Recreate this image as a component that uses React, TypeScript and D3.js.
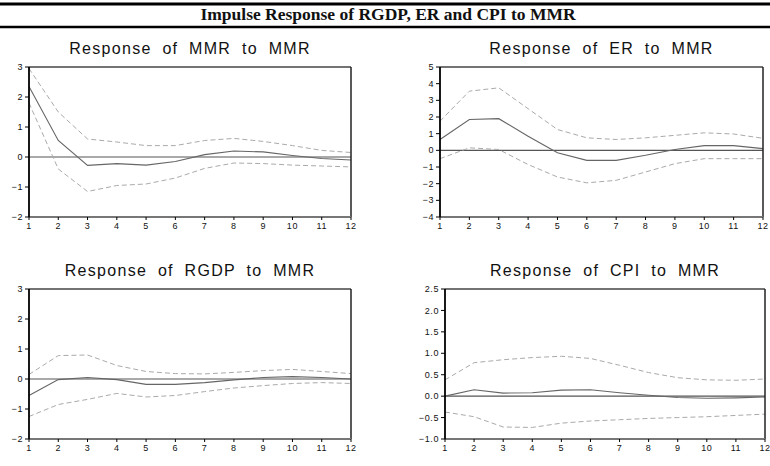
import React from "react";
import * as d3 from "d3";

const periods = d3.range(1, 13);

// MMR to MMR
const mmrResp = [2.35, 0.55, -0.28, -0.22, -0.27, -0.15, 0.08, 0.2, 0.17, 0.05, -0.05, -0.1];
const mmrUpper = [2.95, 1.5, 0.6, 0.5, 0.38, 0.38, 0.55, 0.62, 0.52, 0.38, 0.22, 0.15];
const mmrLower = [1.8, -0.4, -1.15, -0.95, -0.9, -0.7, -0.38, -0.2, -0.22, -0.27, -0.3, -0.33];

// ER to MMR
const erResp = [0.65, 1.85, 1.9, 0.85, -0.15, -0.6, -0.6, -0.3, 0.05, 0.28, 0.28, 0.1];
const erUpper = [1.75, 3.55, 3.75, 2.5, 1.25, 0.75, 0.65, 0.75, 0.9, 1.05, 0.98, 0.72];
const erLower = [-0.5, 0.15, 0.05, -0.85, -1.6, -1.95, -1.8, -1.3, -0.8, -0.5, -0.5, -0.5];

// RGDP to MMR
const rgdpResp = [-0.55, -0.02, 0.05, -0.02, -0.18, -0.18, -0.12, -0.03, 0.05, 0.08, 0.05, 0.0];
const rgdpUpper = [0.15, 0.78, 0.8, 0.45, 0.25, 0.18, 0.17, 0.22, 0.28, 0.32, 0.25, 0.18];
const rgdpLower = [-1.25, -0.85, -0.68, -0.48, -0.6, -0.55, -0.42, -0.3, -0.22, -0.15, -0.12, -0.15];

// CPI to MMR
const cpiResp = [0.0, 0.15, 0.07, 0.08, 0.14, 0.15, 0.08, 0.02, -0.03, -0.05, -0.04, -0.02];
const cpiUpper = [0.38, 0.78, 0.85, 0.9, 0.93, 0.88, 0.72, 0.55, 0.43, 0.38, 0.37, 0.4];
const cpiLower = [-0.37, -0.48, -0.72, -0.73, -0.63, -0.58, -0.55, -0.52, -0.5, -0.48, -0.45, -0.42];

const mainTitle = "Impulse Response of RGDP, ER and CPI to MMR";

const panels = [
  { title: "Response of MMR to MMR", resp: mmrResp, upper: mmrUpper, lower: mmrLower,
    domain: [-2, 3], ticks: d3.range(-2, 4, 1), fmt: d3.format("d"), x0: 29, x1: 351, y0: 67, y1: 217 },
  { title: "Response of ER to MMR", resp: erResp, upper: erUpper, lower: erLower,
    domain: [-4, 5], ticks: d3.range(-4, 6, 1), fmt: d3.format("d"), x0: 440, x1: 763, y0: 67, y1: 217 },
  { title: "Response of RGDP to MMR", resp: rgdpResp, upper: rgdpUpper, lower: rgdpLower,
    domain: [-2, 3], ticks: d3.range(-2, 4, 1), fmt: d3.format("d"), x0: 29, x1: 351, y0: 289, y1: 439 },
  { title: "Response of CPI to MMR", resp: cpiResp, upper: cpiUpper, lower: cpiLower,
    domain: [-1, 2.5], ticks: d3.range(-1, 2.51, 0.5), fmt: d3.format(".1f"), x0: 445, x1: 765, y0: 289, y1: 439 },
];

const Panel = ({ p }: { p: typeof panels[number] }) => {
  const x = d3.scaleLinear().domain([1, 12]).range([p.x0, p.x1]);
  const y = d3.scaleLinear().domain(p.domain).range([p.y1, p.y0]);
  const line = d3.line<number>().x((_, i) => x(periods[i])).y((d) => y(d));
  const font = "Liberation Sans, Arial, sans-serif";
  return (
    <g>
      <text x={(p.x0 + p.x1) / 2} y={p.y0 - 13} textAnchor="middle" fontFamily={font}
        fontSize={16} letterSpacing={1.3} wordSpacing={5} fill="#111">{p.title}</text>
      <line x1={p.x0} x2={p.x1} y1={y(0)} y2={y(0)} stroke="#555" strokeWidth={1.2} />
      <path d={line(p.upper) ?? ""} fill="none" stroke="#aaa" strokeWidth={1} strokeDasharray="5,3" />
      <path d={line(p.lower) ?? ""} fill="none" stroke="#aaa" strokeWidth={1} strokeDasharray="5,3" />
      <path d={line(p.resp) ?? ""} fill="none" stroke="#666" strokeWidth={1.1} />
      {/* frame */}
      <line x1={p.x0} x2={p.x1} y1={p.y0} y2={p.y0} stroke="#444" strokeWidth={1.5} />
      <line x1={p.x1} x2={p.x1} y1={p.y0} y2={p.y1} stroke="#222" strokeWidth={1.5} />
      <line x1={p.x0} x2={p.x1} y1={p.y1} y2={p.y1} stroke="#777" strokeWidth={2} />
      <line x1={p.x0} x2={p.x0} y1={p.y0} y2={p.y1} stroke="#000" strokeWidth={1.8} />
      {p.ticks.map((t) => (
        <g key={t}>
          <line x1={p.x0 - 4} x2={p.x0} y1={y(t)} y2={y(t)} stroke="#000" />
          <text x={p.x0 - 6} y={y(t)} dy="0.35em" textAnchor="end" fontFamily={font}
            fontSize={9} letterSpacing={0.6} fill="#111">{p.fmt(t)}</text>
        </g>
      ))}
      {periods.map((t) => (
        <g key={t}>
          <line x1={x(t)} x2={x(t)} y1={p.y1} y2={p.y1 + 3} stroke="#000" />
          <text x={x(t)} y={p.y1 + 12} textAnchor="middle" fontFamily={font}
            fontSize={9} letterSpacing={0.6} fill="#111">{t}</text>
        </g>
      ))}
    </g>
  );
};

export default function App() {
  const width = 770;
  const height = 466;
  return (
    <div style={{ position: "fixed", left: 0, top: 0 }}>
      <svg width={width} height={height} style={{ display: "block", background: "#fff" }}>
        <line x1={0} x2={width} y1={4} y2={4} stroke="#000" strokeWidth={3} />
        <text x={388} y={20} textAnchor="middle" fontFamily="Liberation Serif, Times New Roman, serif"
          fontWeight="bold" fontSize={17.5} fill="#111">{mainTitle}</text>
        <line x1={0} x2={width} y1={27} y2={27} stroke="#000" strokeWidth={2.5} />
        {panels.map((p) => (
          <Panel key={p.title} p={p} />
        ))}
      </svg>
    </div>
  );
}
